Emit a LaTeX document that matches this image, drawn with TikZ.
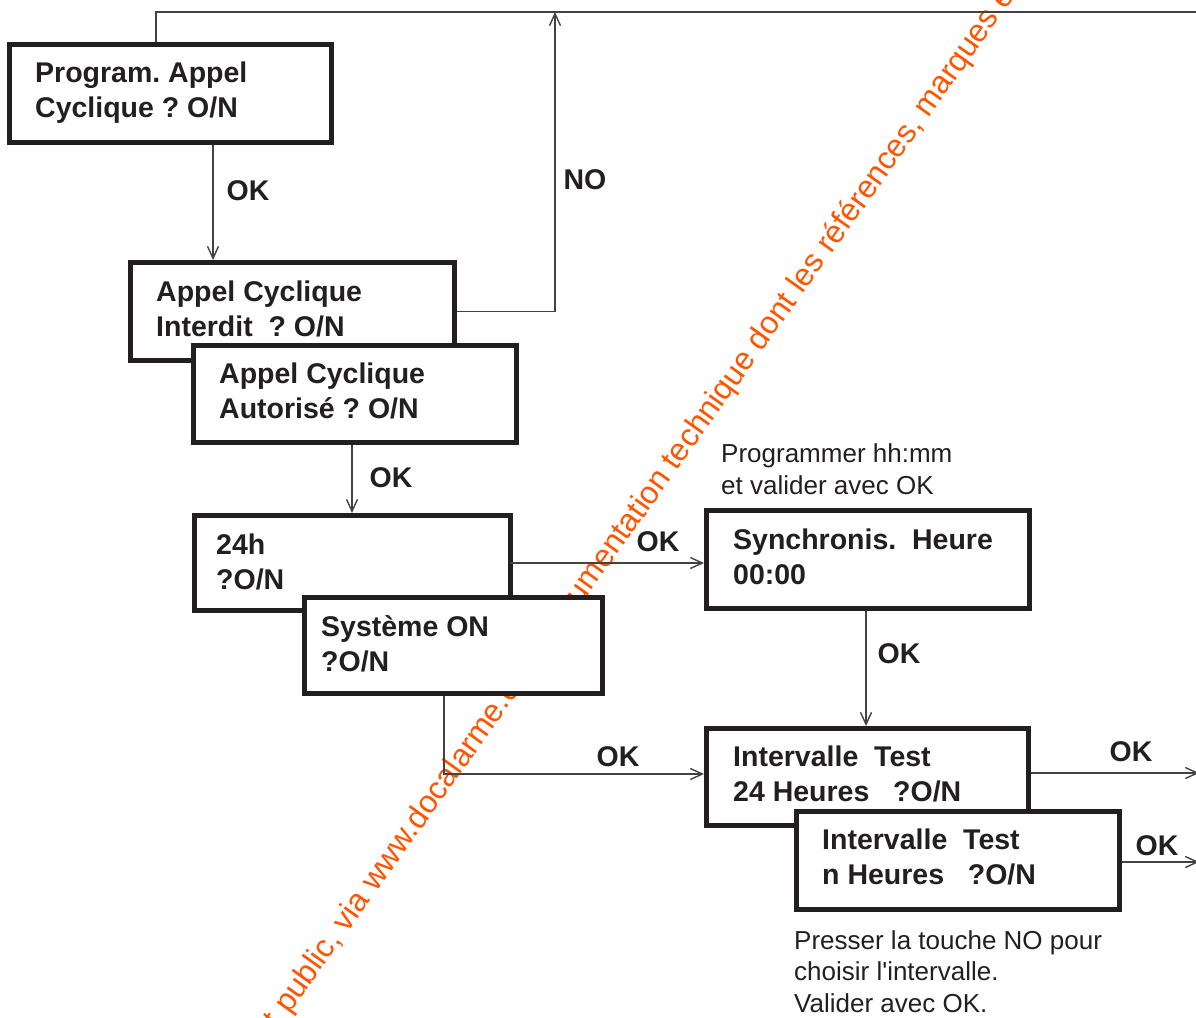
\documentclass[tikz,border=0pt]{standalone}
\usepackage{fontspec}
\setmainfont{Liberation Sans}
\usetikzlibrary{arrows.meta}
\definecolor{ink}{HTML}{231F20}
\definecolor{wmorange}{RGB}{255,85,0}
\frenchspacing
\begin{document}
\begin{tikzpicture}[x=1pt,y=1pt,
  box/.style={draw=ink, line width=5pt, fill=white, inner sep=0pt, minimum width=#1},
  boxtxt/.style={text=ink, font=\fontsize{28.5}{34.5}\selectfont\bfseries, align=left, anchor=base west, inner sep=0pt},
  note/.style={text=ink, font=\fontsize{26}{31.5}\selectfont, align=left, anchor=base west, inner sep=0pt},
  lbl/.style={text=ink, font=\fontsize{28.5}{34}\selectfont\bfseries, inner sep=0pt},
  wm/.style={text=wmorange, font=\fontsize{31.7}{36}\selectfont, inner sep=0pt, anchor=base west, rotate=54.5},
  conn/.style={draw=ink!85, line width=1.4pt},
  arr/.style={conn, -{Straight Barb[length=12pt,width=11pt]}},
]
\useasboundingbox (0,0) rectangle (1196,-1017);

% watermark (under everything)
\node[wm] (wm) at (289,-1015) {\llap{t }public, via www.docalarme.com documentation technique dont les références, marques e};

% helper coordinates
\coordinate (topL) at (156,-12);
\coordinate (topR) at (1196,-12);
\coordinate (noTop) at (555,-12);
\coordinate (ab) at (213,0);
\coordinate (cd) at (352,0);
\coordinate (fg) at (866,0);
\coordinate (egc) at (444,-774);
\coordinate (gout) at (1199,-773);
\coordinate (hout) at (1199,-862);

% boxes (later ones overlap earlier ones)
\node[box=322pt, minimum height=98pt] (A) at (170.5,-93.5) {};
\node[box=324pt, minimum height=98pt] (B) at (292.5,-311.5) {};
\node[box=323pt, minimum height=97pt] (C) at (355,-394) {};
\node[box=316pt, minimum height=95pt] (D) at (352.5,-563) {};
\node[box=298pt, minimum height=96pt] (E) at (453.5,-645.5) {};
\node[box=323pt, minimum height=98pt] (F) at (868,-559.5) {};
\node[box=322pt, minimum height=97pt] (G) at (867.5,-777) {};
\node[box=323pt, minimum height=98pt] (H) at (958,-860.5) {};

% connectors
\draw[conn] (A.north -| topL) -- (topL) -- (topR);
\draw[arr] (B.east) -| (noTop);
\draw[arr] (A.south -| ab) -- (B.north -| ab);
\draw[arr] (C.south -| cd) -- (D.north -| cd);
\draw[arr] (D.east) ++(-3,0) -- (F.west |- D.east);
\draw[arr] (F.south -| fg) -- (G.north -| fg);
\draw[arr] (E.south -| egc) -- (egc) -- (G.west |- egc);
\draw[arr] (G.east |- gout) -- (gout);
\draw[arr] (H.east |- hout) -- (hout);

% box texts (anchored at the baseline of the last line)
\node[boxtxt] (tA) at (35,-117) {Program. Appel\\Cyclique ? O/N};
\node[boxtxt] (tB) at (156,-336) {Appel Cyclique\\Interdit\ \ ? O/N};
\node[boxtxt] (tC) at (219,-418) {Appel Cyclique\\Autorisé ? O/N};
\node[boxtxt] (tD) at (216,-589) {24h\\?O/N};
\node[boxtxt] (tE) at (321,-671) {Système ON\\?O/N};
\node[boxtxt] (tF) at (733,-584) {Synchronis.\ \ Heure\\00:00};
\node[boxtxt] (tG) at (733,-801) {Intervalle\ \ Test\\24 Heures\ \ \ ?O/N};
\node[boxtxt] (tH) at (822,-884) {Intervalle\ \ Test\\n Heures\ \ \ ?O/N};

% connector labels
\node[lbl] (l1) at (248,-191) {OK};
\node[lbl] (l2) at (585,-180) {NO};
\node[lbl] (l3) at (391,-478) {OK};
\node[lbl] (l4) at (658,-542) {OK};
\node[lbl] (l5) at (899,-654) {OK};
\node[lbl] (l6) at (618,-757) {OK};
\node[lbl] (l7) at (1131,-752) {OK};
\node[lbl] (l8) at (1157,-846) {OK};

% notes
\node[note] (n1) at (721,-494) {Programmer hh:mm\\et valider avec OK};
\node[note] (n2) at (794,-1012) {Presser la touche NO pour\\choisir l\textquotesingle intervalle.\\Valider avec OK.};
\end{tikzpicture}
\end{document}
